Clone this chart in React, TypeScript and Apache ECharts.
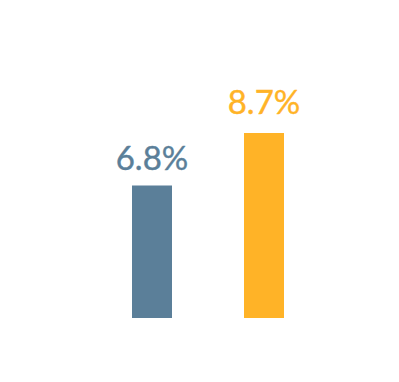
import React, { useEffect, useRef } from "react";
import * as echarts from "echarts";

const categories = ["A", "B"];
const values = [6.8, 8.7];
const colors = ["#5b7f99", "#ffb327"];
const labelGaps = [12, 15];

export default function App() {
  const ref = useRef<HTMLDivElement>(null);
  useEffect(() => {
    document.body.style.margin = "0";
    if (!ref.current) return;
    const chart = echarts.init(ref.current, undefined, { renderer: "svg" });
    chart.setOption({
      animation: false,
      grid: { left: 96, right: 79, top: 97, bottom: 64 },
      xAxis: {
        type: "category",
        data: categories,
        show: false,
      },
      yAxis: { type: "value", min: 2, max: 10, show: false },
      series: [
        {
          type: "bar",
          barWidth: 40,
          data: values.map((v, i) => ({
            value: v,
            itemStyle: { color: colors[i] },
            label: {
              color: colors[i],
              distance: labelGaps[i],
              textBorderColor: colors[i],
              textBorderWidth: 0.4,
            },
          })),
          label: {
            show: true,
            position: "top",
            fontFamily: "Lato",
            fontSize: 33,
            formatter: (p: any) => p.value.toFixed(1) + "%",
          },
        },
      ],
    });
    return () => chart.dispose();
  }, []);
  return <div ref={ref} style={{ width: 399, height: 382 }} />;
}
